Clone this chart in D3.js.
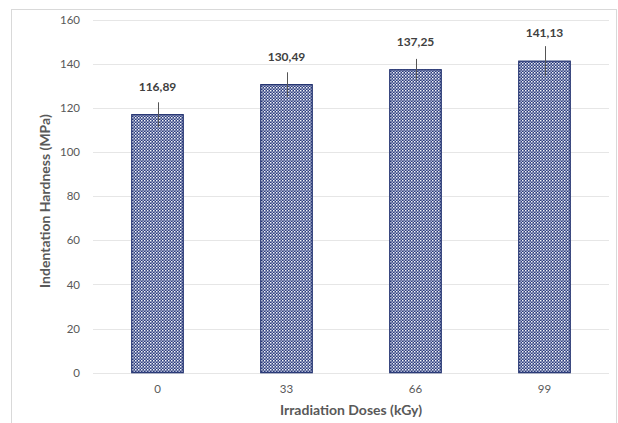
<!DOCTYPE html>
<html>
<head>
<meta charset="utf-8">
<script src="https://cdn.jsdelivr.net/npm/d3@7"></script>
<style>
html,body{margin:0;padding:0;background:#fff;}
svg{display:block;}
</style>
</head>
<body>
<svg id="chart" width="618" height="423"></svg>
<script>
const categories = ["0", "33", "66", "99"];
const values = [116.89, 130.49, 137.25, 141.13];
const errors = [5.6, 5.6, 4.9, 6.8];
const labels = ["116,89", "130,49", "137,25", "141,13"];
const yTicks = [0, 20, 40, 60, 80, 100, 120, 140, 160];

const svg = d3.select("#chart");
const font = "Lato, 'Open Sans', sans-serif";

// outer frame
svg.append("rect").attr("x", 11.5).attr("y", 9.5).attr("width", 605).attr("height", 420)
  .attr("fill", "#fff").attr("stroke", "#d9d9d9").attr("stroke-width", 1);

const pLeft = 93, pRight = 609, pTop = 19.5, pBottom = 372.7;

const x = d3.scaleBand().domain(categories).range([pLeft, pRight]).paddingInner(0.593).paddingOuter(0.2965);
const y = d3.scaleLinear().domain([0, 160]).range([pBottom, pTop]);

// pattern
const defs = svg.append("defs");
const pat = defs.append("pattern").attr("id", "chk").attr("patternUnits", "userSpaceOnUse")
  .attr("width", 3).attr("height", 3);
pat.append("rect").attr("width", 3).attr("height", 3).attr("fill", "#2b3c7c");
pat.append("rect").attr("x", 0).attr("y", 0).attr("width", 1.5).attr("height", 1.5).attr("fill", "#f4f5fa");
pat.append("rect").attr("x", 1.5).attr("y", 1.5).attr("width", 1.5).attr("height", 1.5).attr("fill", "#aeb6d3");

// gridlines
svg.append("g").selectAll("line").data(yTicks).join("line")
  .attr("x1", pLeft).attr("x2", pRight)
  .attr("y1", d => Math.round(y(d)) + 0.5).attr("y2", d => Math.round(y(d)) + 0.5)
  .attr("stroke", "#e6e6e6").attr("stroke-width", 1);

// y axis tick labels
const yAxis = d3.axisLeft(y).tickValues(yTicks).tickSize(0).tickPadding(0);
const gy = svg.append("g").attr("transform", `translate(80,0)`).call(yAxis);
gy.select(".domain").remove();
gy.selectAll("text").attr("font-family", font).attr("font-size", 11.5).attr("fill", "#595959");

// x axis tick labels
const xAxis = d3.axisBottom(x).tickSize(0).tickPadding(0);
const gx = svg.append("g").attr("transform", `translate(0,385)`).call(xAxis);
gx.select(".domain").remove();
gx.selectAll("text").attr("font-family", font).attr("font-size", 11.5).attr("fill", "#595959");

// bars
svg.append("g").selectAll("rect").data(values).join("rect")
  .attr("x", (d, i) => x(categories[i]) + 0.5)
  .attr("y", d => y(d))
  .attr("width", x.bandwidth() - 1)
  .attr("height", d => y(0) - y(d))
  .attr("fill", "url(#chk)")
  .attr("stroke", "#1f2f6e").attr("stroke-width", 1.2);

// error bars
svg.append("g").selectAll("line").data(values).join("line")
  .attr("x1", (d, i) => Math.round(x(categories[i]) + x.bandwidth() / 2) + 0.5)
  .attr("x2", (d, i) => Math.round(x(categories[i]) + x.bandwidth() / 2) + 0.5)
  .attr("y1", (d, i) => y(d + errors[i]))
  .attr("y2", (d, i) => y(d - errors[i]))
  .attr("stroke", "#555").attr("stroke-width", 1);

// data labels
svg.append("g").selectAll("text").data(values).join("text")
  .attr("x", (d, i) => x(categories[i]) + x.bandwidth() / 2)
  .attr("y", d => y(d) - 24)
  .attr("text-anchor", "middle")
  .attr("font-family", font).attr("font-size", 12).attr("font-weight", "bold").attr("fill", "#404040")
  .text((d, i) => labels[i]);

// axis titles
svg.append("text").attr("x", (pLeft + pRight) / 2).attr("y", 415).attr("text-anchor", "middle")
  .attr("font-family", font).attr("font-size", 14).attr("font-weight", "bold").attr("fill", "#595959")
  .text("Irradiation Doses (kGy)");
svg.append("text").attr("transform", `translate(50,${(pTop + pBottom) / 2 + 5}) rotate(-90)`)
  .attr("text-anchor", "middle")
  .attr("font-family", font).attr("font-size", 14).attr("font-weight", "bold").attr("fill", "#595959")
  .text("Indentation Hardness (MPa)");
</script>
</body>
</html>
